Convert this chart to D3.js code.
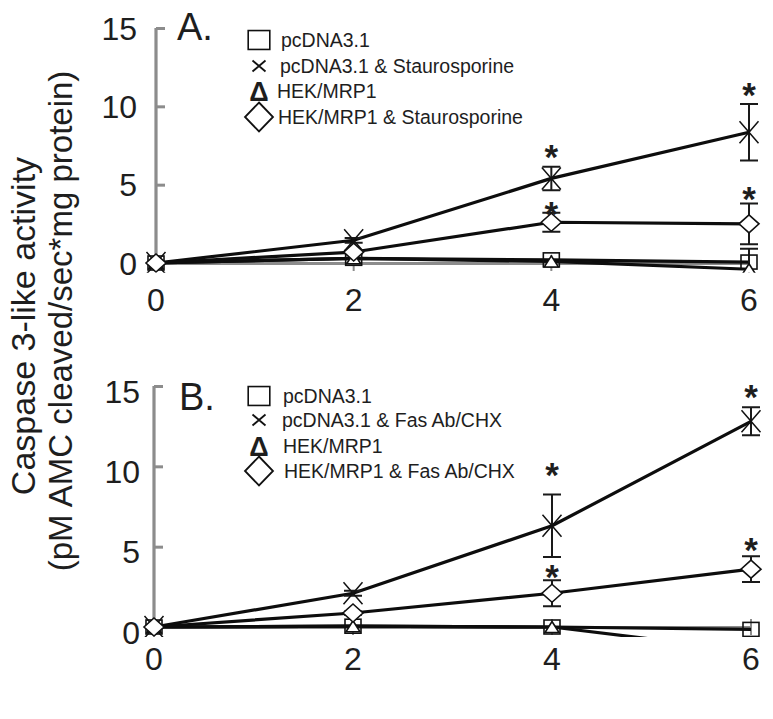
<!DOCTYPE html>
<html><head><meta charset="utf-8">
<script src="https://cdn.jsdelivr.net/npm/d3@7"></script>
<style>body{margin:0;background:#fff} svg{display:block} text{font-family:"Liberation Sans",Arial,sans-serif;fill:#1e1e1e}</style>
</head><body><svg id="c" width="773" height="719"></svg>
<script>
// ---------- data ----------
const times = [0, 2, 4, 6];
const xTickLabels = ["0", "2", "4", "6"];
const yTickValues = [0, 5, 10, 15];
const markerTypes = ["square", "x", "triangle", "diamond"];
const legendA = ["pcDNA3.1", "pcDNA3.1 & Staurosporine", "HEK/MRP1", "HEK/MRP1 & Staurosporine"];
const legendB = ["pcDNA3.1", "pcDNA3.1 & Fas Ab/CHX", "HEK/MRP1", "HEK/MRP1 & Fas Ab/CHX"];
const yTitle = ["Caspase 3-like activity", "(pM AMC cleaved/sec*mg protein)"];

// Panel A
const A_pcDNA = [0, 0.3, 0.2, 0.06];
const A_pcDNA_err = [0, 0, 0, 0.85];
const A_pcStaur = [0, 1.45, 5.4, 8.35];
const A_pcStaur_err = [0, 0.15, 0.75, 1.8];
const A_HEK = [0, 0.3, 0.1, -0.4];
const A_HEK_err = [0, 0, 0, 0];
const A_HEKStaur = [0, 0.7, 2.6, 2.5];
const A_HEKStaur_err = [0, 0.1, 0.6, 1.3];
const A_stars = [[4, 7.2], [6, 11.2], [4, 3.6], [6, 4.55]];

// Panel B
const B_pcDNA = [0, 0.05, 0, -0.15];
const B_pcDNA_err = [0, 0, 0, 0];
const B_pcFas = [0, 2.1, 6.3, 12.8];
const B_pcFas_err = [0, 0.15, 1.95, 0.87];
const B_HEK = [0, 0.05, 0, -1.5];
const B_HEK_err = [0, 0, 0, 0];
const B_HEKFas = [0, 0.87, 2.1, 3.6];
const B_HEKFas_err = [0, 0.1, 0.81, 0.8];
const B_stars = [[4, 9.9], [6, 14.75], [4, 3.55], [6, 5.2]];

// ---------- drawing ----------
const svg = d3.select("#c");
const GREY = "#8c8c8c";

function marker(g, type, big) {
  const s = big ? 1.35 : 1;
  if (type === "square") {
    g.append("rect").attr("x", -8 * s).attr("y", -7 * s).attr("width", 16 * s).attr("height", 14 * s)
      .attr("fill", big ? "#fff" : "none").attr("stroke", "#111").attr("stroke-width", 1.6);
  } else if (type === "x") {
    const w = big ? 6.5 : 9.5, h = big ? 5.5 : 11;
    g.append("path").attr("d", `M${-w},${-h}L${w},${h}M${-w},${h}L${w},${-h}`)
      .attr("stroke", "#111").attr("stroke-width", big ? 1.8 : 1.5).attr("fill", "none");
  } else if (type === "triangle") {
    const w = big ? 9 : 7, h = big ? 14 : 11;
    g.append("path").attr("d", `M0,${-h / 2}L${w},${h / 2}L${-w},${h / 2}Z`)
      .attr("fill", "#fff").attr("stroke", "#111").attr("stroke-width", big ? 2.4 : 1.6);
  } else {
    const w = big ? 14 : 10, h = big ? 14.5 : 9;
    g.append("path").attr("d", `M0,${-h}L${w},0L0,${h}L${-w},0Z`)
      .attr("fill", "#fff").attr("stroke", "#111").attr("stroke-width", big ? 1.8 : 1.6);
  }
}

function panel(cfg) {
  const x = d3.scaleLinear().domain([0, 6]).range(cfg.xr);
  const y = d3.scaleLinear().domain([0, 15]).range(cfg.yr);
  const g = svg.append("g");

  // y axis
  const yAxis = d3.axisRight(y).tickValues(yTickValues).tickSize(9).tickFormat("");
  const ya = g.append("g").attr("transform", `translate(${cfg.xr[0]},0)`).call(yAxis);
  ya.select(".domain").attr("stroke", GREY).attr("stroke-width", 3.2).attr("d", `M0,${cfg.yr[1]}V${cfg.yr[0]}`);
  ya.selectAll(".tick line").attr("stroke", GREY).attr("stroke-width", 3);
  g.selectAll(".ylab").data(yTickValues).join("text")
    .attr("x", cfg.ylabX).attr("y", d => y(d) + cfg.ylabDy).attr("dy", "0.36em")
    .attr("text-anchor", "end").attr("font-size", 32).text(d => d);

  // x axis
  const xAxis = d3.axisBottom(x).tickValues(times).tickSize(0).tickFormat("");
  const xa = g.append("g").attr("transform", `translate(0,${y(0)})`).call(xAxis);
  xa.select(".domain").attr("stroke", GREY).attr("stroke-width", 3);
  g.selectAll(".xt").data(times.slice(1)).join("line")
    .attr("x1", d => x(d)).attr("x2", d => x(d)).attr("y1", y(0) - 8).attr("y2", y(0) + 8)
    .attr("stroke", GREY).attr("stroke-width", 2);
  g.selectAll(".xlab").data(times).join("text")
    .attr("x", d => x(d)).attr("y", cfg.xlabY).attr("text-anchor", "middle")
    .attr("font-size", 32).text((d, i) => xTickLabels[i]);

  // clip
  const cid = "clip" + cfg.id;
  svg.append("clipPath").attr("id", cid).append("rect")
    .attr("x", cfg.xr[0] - 20).attr("y", cfg.yr[1] - 30)
    .attr("width", cfg.xr[1] - cfg.xr[0] + 40).attr("height", y(-0.62) - cfg.yr[1] + 30);
  const pg = g.append("g").attr("clip-path", `url(#${cid})`);

  const line = d3.line().x((d, i) => x(times[i])).y(d => y(d));
  cfg.series.forEach(s => {
    pg.append("path").datum(s.v).attr("d", line).attr("fill", "none")
      .attr("stroke", "#0d0d0d").attr("stroke-width", 3.2).attr("stroke-linejoin", "round");
  });
  // error bars
  cfg.series.forEach(s => {
    s.v.forEach((v, i) => {
      const e = s.e[i];
      if (!e) return;
      const cx = x(times[i]);
      pg.append("path")
        .attr("d", `M${cx},${y(v + e)}V${y(v - e)}M${cx - 9},${y(v + e)}H${cx + 9}M${cx - 9},${y(v - e)}H${cx + 9}`)
        .attr("stroke", "#1a1a1a").attr("stroke-width", 2).attr("fill", "none");
    });
  });
  // markers
  cfg.series.forEach((s, k) => {
    s.v.forEach((v, i) => {
      const mg = pg.append("g").attr("transform", `translate(${x(times[i])},${y(v)})`);
      marker(mg, markerTypes[k], false);
    });
  });
  // stars
  g.selectAll(".star").data(cfg.stars).join("text")
    .attr("x", d => x(d[0])).attr("y", d => y(d[1]) + 19)
    .attr("text-anchor", "middle").attr("font-size", 35).attr("font-weight", "bold").text("*");

  // panel label
  g.append("text").attr("x", cfg.labX).attr("y", cfg.labY).attr("font-size", 38).text(cfg.label);

  // legend
  cfg.legend.forEach((t, i) => {
    const ly = cfg.legY[i];
    const mg = g.append("g").attr("transform", `translate(${cfg.legSymX},${ly})`);
    if (markerTypes[i] === "triangle") {
      mg.append("text").attr("x", 0).attr("y", 0).attr("dy", "0.36em").attr("text-anchor", "middle")
        .attr("font-size", 27).attr("font-weight", "bold").text("Δ");
    } else {
      marker(mg, markerTypes[i], true);
    }
    g.append("text").attr("x", cfg.legTextX[i]).attr("y", ly).attr("dy", "0.36em")
      .attr("font-size", 19.5).text(t);
  });
}

panel({
  id: "A", label: "A.", labX: 177, labY: 40,
  xr: [156, 749], yr: [263, 28], ylabX: 137, ylabDy: 0, xlabY: 311,
  series: [
    { v: A_pcDNA, e: A_pcDNA_err }, { v: A_pcStaur, e: A_pcStaur_err },
    { v: A_HEK, e: A_HEK_err }, { v: A_HEKStaur, e: A_HEKStaur_err }],
  stars: A_stars, legend: legendA,
  legSymX: 259, legY: [40, 66, 91, 117], legTextX: [281, 280, 277, 278]
});
panel({
  id: "B", label: "B.", labX: 179, labY: 410,
  xr: [154, 751], yr: [627, 386], ylabX: 140, ylabDy: 5, xlabY: 670,
  series: [
    { v: B_pcDNA, e: B_pcDNA_err }, { v: B_pcFas, e: B_pcFas_err },
    { v: B_HEK, e: B_HEK_err }, { v: B_HEKFas, e: B_HEKFas_err }],
  stars: B_stars, legend: legendB,
  legSymX: 259, legY: [396, 420, 446, 471], legTextX: [283, 282, 283, 284]
});

// y title
svg.append("text").attr("transform", "translate(35,326) rotate(-90)").attr("text-anchor", "middle")
  .attr("font-size", 34).text(yTitle[0]);
svg.append("text").attr("transform", "translate(72,321) rotate(-90)").attr("text-anchor", "middle")
  .attr("font-size", 33).text(yTitle[1]);
</script></body></html>
